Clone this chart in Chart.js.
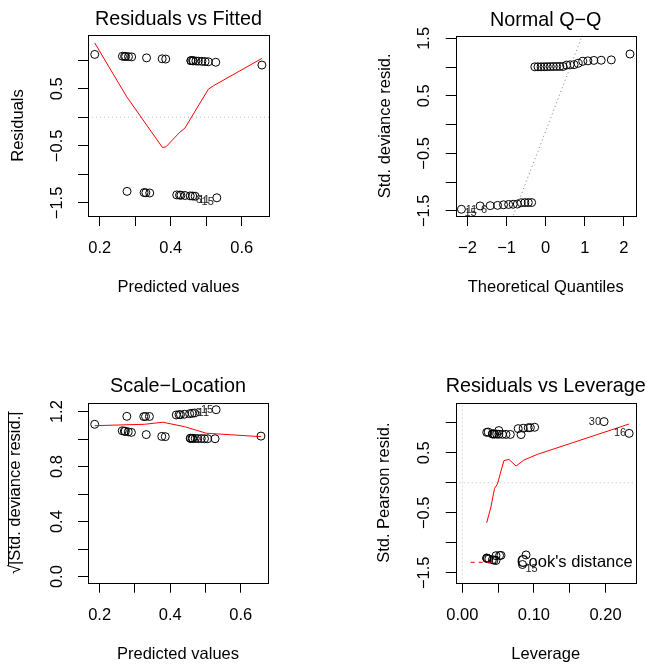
<!DOCTYPE html>
<html>
<head>
<meta charset="utf-8">
<title>GLM diagnostics</title>
<script src="https://cdn.jsdelivr.net/npm/chart.js@4.4.1/dist/chart.umd.min.js"></script>
<style>
  html, body { margin: 0; padding: 0; background: #fff; }
  #page { position: relative; width: 648px; height: 664px; background: #fff; }
  #page canvas { position: absolute; }
</style>
</head>
<body>
<div id="page">
  <canvas id="residFitted" width="324" height="300" style="left:0;top:0"></canvas>
  <canvas id="normalQQ" width="324" height="300" style="left:324px;top:0"></canvas>
  <canvas id="scaleLocation" width="324" height="304" style="left:0;top:360px"></canvas>
  <canvas id="residLeverage" width="324" height="304" style="left:324px;top:360px"></canvas>
</div>
<script>
const FONT = '"Liberation Sans", Arial, sans-serif';
const BASE = 16.5;

// per observation (1..32): linear predictor, deviance residual,
// sqrt|std. deviance residual|, hat value, std. Pearson residual
const predicted = [0.457, 0.464, 0.325, 0.290, 0.478, 0.462, 0.332, 0.417, 0.386, 0.264, 0.469, 0.488, 0.341, 0.273, 0.530, 0.657,
  0.471, 0.429, 0.376, 0.277, 0.497, 0.281, 0.440, 0.506, 0.330, 0.462, 0.425, 0.527, 0.270, 0.186, 0.455, 0.457];
const residuals = [0.991, 0.988, -1.318, 1.057, 0.982, -1.379, 1.040, -1.359, 1.019, 1.068, -1.382, 0.979, -1.325, 1.064, -1.409, 0.914,
  0.985, -1.364, 1.023, -1.297, 0.975, 1.061, -1.369, 0.971, -1.321, 0.989, -1.362, 0.963, 1.065, 1.100, -1.376, 0.991];
const sqrtStdResid = [1.006, 1.005, 1.164, 1.049, 1.004, 1.188, 1.033, 1.176, 1.018, 1.061, 1.190, 1.004, 1.165, 1.057, 1.214, 1.022,
  1.005, 1.178, 1.020, 1.166, 1.003, 1.053, 1.181, 1.003, 1.165, 1.006, 1.178, 1.003, 1.058, 1.108, 1.185, 1.006];
const leverage = [0.042, 0.045, 0.054, 0.078, 0.051, 0.044, 0.051, 0.034, 0.034, 0.101, 0.047, 0.056, 0.047, 0.092, 0.084, 0.233,
  0.048, 0.035, 0.036, 0.089, 0.061, 0.085, 0.037, 0.067, 0.052, 0.044, 0.034, 0.082, 0.095, 0.198, 0.042, 0.042];
const stdPearson = [0.813, 0.811, -1.210, 0.901, 0.808, -1.289, 0.869, -1.253, 0.839, 0.924, -1.295, 0.806, -1.215, 0.916, -1.362, 0.822,
  0.810, -1.262, 0.844, -1.203, 0.805, 0.908, -1.270, 0.804, -1.211, 0.812, -1.259, 0.802, 0.918, 1.018, -1.282, 0.813];

// normal scores against sorted std. deviance residuals
const qqTheoretical = [-2.154, -1.676, -1.418, -1.230, -1.078, -0.947, -0.831, -0.725, -0.626, -0.534, -0.445, -0.360, -0.278, -0.197, -0.118, -0.039,
  0.039, 0.118, 0.197, 0.278, 0.360, 0.445, 0.534, 0.626, 0.725, 0.831, 0.947, 1.078, 1.230, 1.418, 1.676, 2.154];
const qqStdResid = [-1.473, -1.415, -1.410, -1.405, -1.395, -1.389, -1.386, -1.382, -1.359, -1.357, -1.356, -1.356, 1.005, 1.006, 1.006, 1.007,
  1.008, 1.009, 1.011, 1.011, 1.012, 1.012, 1.036, 1.041, 1.044, 1.067, 1.101, 1.109, 1.117, 1.120, 1.126, 1.228];
const qqLineX = [-2.4, 2.4];
const qqLineY = [-4.37, 4.15];

// flagged observations
const idResid = [15, 11, 6];
const idCook = [30, 16, 15];

// lowess smooths
const fittedSmoothX = [0.186, 0.276, 0.377, 0.387, 0.426, 0.440, 0.506, 0.520, 0.657];
const fittedSmoothY = [1.30, 0.36, -0.53, -0.515, -0.26, -0.19, 0.49, 0.55, 1.03];
const scaleSmoothX = [0.186, 0.327, 0.379, 0.440, 0.502, 0.657];
const scaleSmoothY = [1.098, 1.108, 1.123, 1.091, 1.043, 1.018];
const leverageSmoothX = [0.034, 0.040, 0.045, 0.049, 0.058, 0.065, 0.075, 0.086, 0.105, 0.233];
const leverageSmoothY = [-0.667, -0.40, -0.093, -0.022, 0.367, 0.39, 0.278, 0.378, 0.473, 0.978];

// axis limits and ticks
const fitRange = [0.167, 0.677];
const fitTicks = [0.2, 0.3, 0.4, 0.5, 0.6];
const fitTickLabels = ['0.2', '', '0.4', '', '0.6'];
const residRange = [-1.728, 1.44];
const residTicks = [-1.5, -1, -0.5, 0, 0.5, 1];
const residTickLabels = ['\u22121.5', '', '\u22120.5', '', '0.5', ''];
const qqXRange = [-2.3, 2.3];
const qqYRange = [-1.59, 1.547];
const qqXTicks = [-2, -1, 0, 1, 2];
const qqXTickLabels = ['\u22122', '\u22121', '0', '1', '2'];
const qqYTicks = [-1.5, -1, -0.5, 0, 0.5, 1, 1.5];
const qqYTickLabels = ['\u22121.5', '', '\u22120.5', '', '0.5', '', '1.5'];
const scaleRange = [-0.044, 1.265];
const scaleTicks = [0, 0.2, 0.4, 0.6, 0.8, 1, 1.2];
const scaleTickLabels = ['0.0', '', '0.4', '', '0.8', '', '1.2'];
const levRange = [-0.0093, 0.2422];
const levTicks = [0, 0.05, 0.1, 0.15, 0.2];
const levTickLabels = ['0.00', '', '0.10', '', '0.20'];
const pearsonRange = [-1.665, 1.333];

function pts(xs, ys) {
  return xs.map((x, i) => ({ x: x, y: ys[i] }));
}

function circles(xs, ys) {
  return {
    data: pts(xs, ys), showLine: false, pointStyle: 'circle', pointRadius: 4,
    pointBorderWidth: 1, borderColor: '#000', backgroundColor: 'rgba(0,0,0,0)', order: 3
  };
}

function path(xs, ys, color, dash, order) {
  return {
    data: pts(xs, ys), showLine: true, borderColor: color, borderWidth: 1, borderDash: dash,
    pointRadius: 0, fill: false, tension: 0, clip: 0, order: order
  };
}

function flag(xs, ys, ids) {
  return ids.map((n) => ({ x: xs[n - 1], y: ys[n - 1], text: String(n) }));
}

function axis(position, range, values, labels, title, size, titlePad, labelPad) {
  const vertical = position === 'left';
  return {
    type: 'linear', position: position, min: range[0], max: range[1],
    afterBuildTicks: (s) => { s.ticks = values.map((v) => ({ value: v })); },
    afterFit: (s) => { if (vertical) s.width = size; else s.height = size; },
    grid: { display: true, drawOnChartArea: false, drawTicks: true, tickLength: 10, color: '#000', lineWidth: 1 },
    border: { display: false },
    ticks: {
      autoSkip: false, color: '#000', font: { family: FONT, size: BASE }, padding: labelPad,
      minRotation: vertical ? 90 : 0, maxRotation: vertical ? 90 : 0,
      crossAlign: vertical ? 'center' : 'near',
      callback: (v, i) => labels[i]
    },
    title: {
      display: true, text: title, color: '#000', font: { family: FONT, size: BASE },
      padding: vertical ? { top: titlePad, bottom: 0 } : { top: 0, bottom: titlePad }
    }
  };
}

// box, main title, point ids, legend
const decor = {
  id: 'decor',
  afterDraw(chart, args, o) {
    const { ctx, chartArea: a } = chart;
    const xs = chart.scales.x;
    const ys = chart.scales.y;
    ctx.save();
    ctx.strokeStyle = '#000';
    ctx.lineWidth = 1;
    ctx.strokeRect(Math.round(a.left) + 0.5, Math.round(a.top) + 0.5,
      Math.round(a.right - a.left), Math.round(a.bottom - a.top));

    ctx.fillStyle = '#000';
    ctx.font = (BASE * 1.2) + 'px ' + FONT;
    ctx.textAlign = 'center';
    ctx.textBaseline = 'middle';
    ctx.fillText(o.title, (a.left + a.right) / 2, a.top - o.titleGap);

    if (o.ids) {
      ctx.font = '11px ' + FONT;
      ctx.fillStyle = '#222';
      const lx = o.ids.map((d) => d.x);
      const mid = (Math.min(...lx) + Math.max(...lx)) / 2;
      o.ids.forEach((d) => {
        const px = xs.getPixelForValue(d.x);
        const py = ys.getPixelForValue(d.y) + (d.y < 0 ? 4 : 0);
        const right = d.x <= mid;
        ctx.textAlign = right ? 'left' : 'right';
        ctx.fillText(d.text, px + (right ? 3 : -3), py);
      });
    }

    if (o.legend) {
      const ly = a.bottom - 20.4;
      ctx.strokeStyle = '#f00';
      ctx.setLineDash([4, 4]);
      ctx.beginPath();
      ctx.moveTo(a.left + 15, ly);
      ctx.lineTo(a.left + 39, ly);
      ctx.stroke();
      ctx.setLineDash([]);
      ctx.font = BASE + 'px ' + FONT;
      ctx.fillStyle = '#000';
      ctx.textAlign = 'left';
      ctx.fillText(o.legend, a.left + 61, ly);
    }

    if (o.radical) {
      // bar over the radicand of the rotated y title
      ctx.font = BASE + 'px ' + FONT;
      const text = ys.options.title.text;
      const w = ctx.measureText(text).width;
      const w0 = ctx.measureText('\u221a').width;
      const cy = (a.top + a.bottom) / 2;
      const tx = ys.left + ys.options.title.padding.top + BASE * 0.6 - 7.5;
      ctx.strokeStyle = '#000';
      ctx.beginPath();
      ctx.moveTo(Math.round(tx) + 0.5, cy + w / 2 - w0 + 1);
      ctx.lineTo(Math.round(tx) + 0.5, cy - w / 2);
      ctx.stroke();
    }
    ctx.restore();
  }
};

function makeChart(id, cfg) {
  return new Chart(document.getElementById(id), {
    type: 'scatter',
    data: { datasets: cfg.datasets },
    options: {
      responsive: false,
      animation: false,
      devicePixelRatio: 1,
      layout: { padding: cfg.padding },
      plugins: { legend: { display: false }, tooltip: { enabled: false }, decor: cfg.decor },
      scales: { x: cfg.x, y: cfg.y }
    },
    plugins: [decor]
  });
}

makeChart('residFitted', {
  padding: { left: 0, right: 55, top: 35, bottom: 0 },
  datasets: [
    circles(predicted, residuals),
    path(fitRange, [0, 0], '#bebebe', [1, 3], 2),
    path(fittedSmoothX, fittedSmoothY, '#ff0000', [], 1)
  ],
  x: axis('bottom', fitRange, fitTicks, fitTickLabels, 'Predicted values', 84, 3.1, 12.7),
  y: axis('left', residRange, residTicks, residTickLabels, 'Residuals', 88, 8.1, 4.7),
  decor: { title: 'Residuals vs Fitted', titleGap: 15, ids: flag(predicted, residuals, idResid) }
});

makeChart('normalQQ', {
  padding: { left: 43.7, right: 12.3, top: 35.7, bottom: 0 },
  datasets: [
    circles(qqTheoretical, qqStdResid),
    path(qqLineX, qqLineY, '#7f7f7f', [1, 3], 2)
  ],
  x: axis('bottom', qqXRange, qqXTicks, qqXTickLabels, 'Theoretical Quantiles', 84, 3.1, 12.7),
  y: axis('left', qqYRange, qqYTicks, qqYTickLabels, 'Std. deviance resid.', 88, 8.1, 4.7),
  decor: {
    title: 'Normal Q\u2212Q', titleGap: 15,
    ids: idResid.map((n, i) => ({ x: qqTheoretical[i], y: qqStdResid[i], text: String(n) }))
  }
});

makeChart('scaleLocation', {
  padding: { left: 0, right: 56, top: 42.7, bottom: 0 },
  datasets: [
    circles(predicted, sqrtStdResid),
    path(scaleSmoothX, scaleSmoothY, '#ff0000', [], 1)
  ],
  x: axis('bottom', fitRange, fitTicks, fitTickLabels, 'Predicted values', 81.3, 0, 12.7),
  y: axis('left', scaleRange, scaleTicks, scaleTickLabels, '\u221a|Std. deviance resid.|', 88, 5.1, 9.5),
  decor: { title: 'Scale\u2212Location', titleGap: 16, ids: flag(predicted, sqrtStdResid, idResid), radical: true }
});

makeChart('residLeverage', {
  padding: { left: 43.7, right: 12.3, top: 42.7, bottom: 0 },
  datasets: [
    circles(leverage, stdPearson),
    path(levRange, [0, 0], '#bebebe', [1, 3], 2),
    path([0, 0], pearsonRange, '#bebebe', [1, 3], 2),
    path(leverageSmoothX, leverageSmoothY, '#ff0000', [], 1)
  ],
  x: axis('bottom', levRange, levTicks, levTickLabels, 'Leverage', 81.3, 0, 12.7),
  y: axis('left', pearsonRange, residTicks, residTickLabels, 'Std. Pearson resid.', 88, 7.1, 4.7),
  decor: { title: 'Residuals vs Leverage', titleGap: 16, ids: flag(leverage, stdPearson, idCook), legend: 'Cook\'s distance' }
});
</script>
</body>
</html>
